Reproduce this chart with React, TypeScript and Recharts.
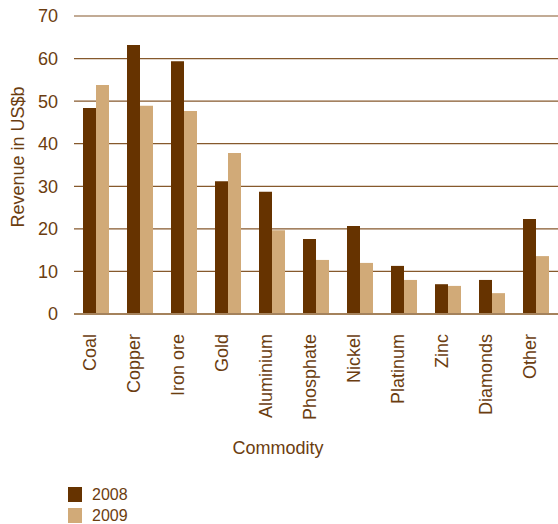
import React from 'react';
import { BarChart, Bar, XAxis, YAxis, CartesianGrid, Legend } from 'recharts';

const commodities = ['Coal', 'Copper', 'Iron ore', 'Gold', 'Aluminium', 'Phosphate', 'Nickel', 'Platinum', 'Zinc', 'Diamonds', 'Other'];
const revenue2008 = [48.4, 63.2, 59.4, 31.2, 28.7, 17.6, 20.7, 11.3, 7.0, 8.0, 22.3];
const revenue2009 = [53.8, 48.9, 47.7, 37.8, 19.7, 12.7, 12.0, 8.0, 6.6, 4.9, 13.6];
const yTicks = [0, 10, 20, 30, 40, 50, 60, 70];

const data = commodities.map((name, i) => ({ name, y2008: revenue2008[i], y2009: revenue2009[i] }));

const TEXT = '#6b3d10';
const DARK = '#663300';
const LIGHT = '#D1AA78';
const FONT = '"Liberation Sans", Arial, sans-serif';

const XTick = (props: any) => {
  const { x, y, payload } = props;
  return (
    <text x={x} y={y} transform={`rotate(-90 ${x} ${y})`} textAnchor="end" fill={TEXT} fontSize={18} fontFamily={FONT}>
      {payload.value}
    </text>
  );
};

const LegendContent = () => (
  <div style={{ fontFamily: FONT, fontSize: 16, color: TEXT }}>
    {[
      { label: '2008', color: DARK },
      { label: '2009', color: LIGHT },
    ].map((it) => (
      <div key={it.label} style={{ display: 'flex', alignItems: 'center', height: 21 }}>
        <span style={{ width: 14, height: 15, background: it.color, display: 'inline-block', marginRight: 10 }} />
        <span>{it.label}</span>
      </div>
    ))}
  </div>
);

export default function App() {
  return (
    <div style={{ position: 'absolute', left: 0, top: 0, width: 558, height: 524, background: '#fff' }}>
      <BarChart
        width={558}
        height={524}
        data={data}
        margin={{ top: 16, right: 0, bottom: 0, left: 0 }}
        barGap={0}
        barCategoryGap={9}
      >
        <CartesianGrid vertical={false} stroke="#86592c" strokeWidth={1.2} />
        <XAxis
          dataKey="name"
          height={210}
          interval={0}
          tickLine={false}
          axisLine={{ stroke: '#a4825c', strokeWidth: 2 }}
          tickMargin={14}
          tick={<XTick />}
          label={{
            content: (p: any) => {
              const vb = p.viewBox;
              return (
                <text x={vb.x + vb.width / 2 - 38} y={vb.y + 140} textAnchor="middle" fill={TEXT} fontSize={18} fontFamily={FONT}>
                  Commodity
                </text>
              );
            },
          }}
        />
        <YAxis
          width={74}
          domain={[0, 70]}
          ticks={yTicks}
          interval={0}
          tickLine={false}
          axisLine={false}
          tickSize={0}
          tickMargin={16}
          tick={{ fill: TEXT, fontSize: 18, fontFamily: FONT }}
          label={{
            content: () => (
              <text x={24} y={157} transform="rotate(-90 24 157)" textAnchor="middle" fill={TEXT} fontSize={18} fontFamily={FONT}>
                Revenue in US$b
              </text>
            ),
          }}
        />
        <Legend
          layout="vertical"
          align="center"
          verticalAlign="middle"
          content={<LegendContent />}
          wrapperStyle={{ left: 68, top: 484, width: 120, height: 42 }}
        />
        <Bar dataKey="y2008" name="2008" fill={DARK} barSize={13} isAnimationActive={false} />
        <Bar dataKey="y2009" name="2009" fill={LIGHT} barSize={13} isAnimationActive={false} />
      </BarChart>
    </div>
  );
}
